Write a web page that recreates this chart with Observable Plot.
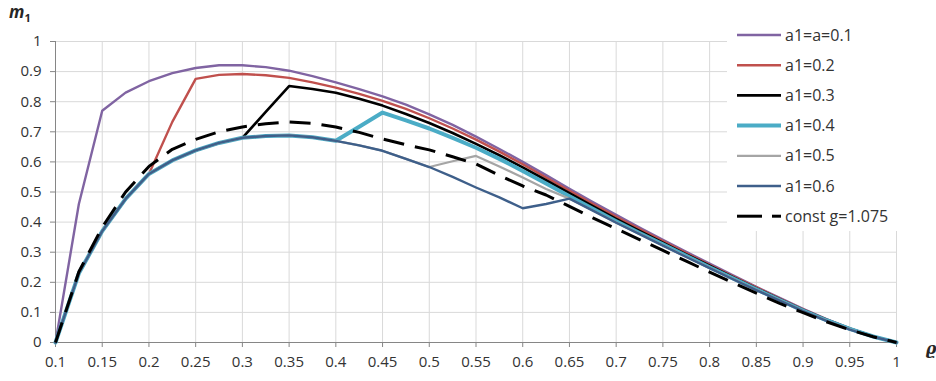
<!DOCTYPE html>
<html>
<head>
<meta charset="utf-8">
<script src="https://cdn.jsdelivr.net/npm/d3@7"></script>
<script src="https://cdn.jsdelivr.net/npm/@observablehq/plot@0.6"></script>
<style>
  html, body { margin: 0; padding: 0; background: #fff; }
  #chart { width: 936px; height: 381px; }
</style>
</head>
<body>
<div id="chart"></div>
<script>
// ---- data ----
const rho = [0.1,0.125,0.15,0.175,0.2,0.225,0.25,0.275,0.3,0.325,0.35,0.375,0.4,0.425,0.45,0.475,0.5,0.525,0.55,0.575,0.6,0.625,0.65,0.675,0.7,0.725,0.75,0.775,0.8,0.825,0.85,0.875,0.9,0.925,0.95,0.975,1];

const a1_01 = [0,0.46,0.77,0.83,0.868,0.895,0.912,0.921,0.921,0.915,0.903,0.885,0.864,0.842,0.818,0.79,0.758,0.723,0.684,0.643,0.6,0.556,0.511,0.467,0.424,0.382,0.341,0.301,0.262,0.223,0.185,0.148,0.112,0.078,0.047,0.021,0];
const a1_02 = [0,0.23,0.37,0.477,0.56,0.733,0.876,0.889,0.892,0.888,0.879,0.864,0.847,0.826,0.803,0.776,0.745,0.711,0.674,0.634,0.592,0.548,0.504,0.46,0.418,0.377,0.337,0.297,0.258,0.22,0.183,0.146,0.11,0.077,0.047,0.021,0];
const a1_03 = [0,0.23,0.37,0.477,0.56,0.605,0.638,0.663,0.68,0.766,0.852,0.842,0.83,0.81,0.787,0.759,0.729,0.696,0.66,0.622,0.582,0.539,0.496,0.453,0.411,0.371,0.332,0.293,0.255,0.217,0.18,0.144,0.108,0.076,0.046,0.02,0];
const a1_04 = [0,0.23,0.37,0.477,0.56,0.605,0.638,0.663,0.68,0.686,0.688,0.682,0.67,0.717,0.764,0.738,0.711,0.68,0.647,0.61,0.57,0.528,0.486,0.444,0.403,0.364,0.326,0.288,0.25,0.213,0.177,0.141,0.106,0.074,0.045,0.02,0];
const a1_05 = [0,0.23,0.37,0.477,0.56,0.605,0.638,0.663,0.68,0.686,0.688,0.682,0.67,0.655,0.637,0.61,0.583,0.602,0.62,0.585,0.548,0.51,0.478,0.439,0.399,0.361,0.323,0.285,0.248,0.211,0.175,0.14,0.105,0.073,0.044,0.019,0];
const a1_06 = [0,0.23,0.37,0.477,0.56,0.605,0.638,0.663,0.68,0.686,0.688,0.682,0.67,0.655,0.637,0.61,0.583,0.55,0.515,0.482,0.446,0.46,0.478,0.438,0.398,0.36,0.322,0.284,0.247,0.21,0.174,0.139,0.104,0.072,0.043,0.019,0];
const constG = [0,0.235,0.383,0.5,0.585,0.642,0.675,0.7,0.716,0.727,0.733,0.728,0.716,0.698,0.676,0.657,0.64,0.617,0.593,0.555,0.52,0.49,0.452,0.414,0.378,0.342,0.306,0.27,0.234,0.199,0.164,0.13,0.099,0.069,0.042,0.019,0];

const seriesNames = ["a1=a=0.1","a1=0.2","a1=0.3","a1=0.4","a1=0.5","a1=0.6","const g=1.075"];
const seriesValues = [a1_01, a1_02, a1_03, a1_04, a1_05, a1_06, constG];

const xTicks = [0.1,0.15,0.2,0.25,0.3,0.35,0.4,0.45,0.5,0.55,0.6,0.65,0.7,0.75,0.8,0.85,0.9,0.95,1];
const yTicks = [0,0.1,0.2,0.3,0.4,0.5,0.6,0.7,0.8,0.9,1];

// ---- styles ----
const colors = ["#8064A2","#C0504D","#000000","#4BACC6","#A5A5A5","#3E5F8A","#000000"];
const widths = [2.4,2.4,2.6,4,2.2,2.4,3];
const dashes = [null,null,null,null,null,null,"21,11"];

const fmt = d => String(+(+d).toFixed(2));

const rows = seriesNames.map((name, i) => rho.map((x, j) => ({x, y: seriesValues[i][j], s: name})));

const lineMarks = rows.map((data, i) => Plot.line(data, {
  x: "x", y: "y",
  stroke: colors[i],
  strokeWidth: widths[i],
  strokeDasharray: dashes[i] || undefined,
  strokeLinejoin: "round",
  strokeLinecap: i === 6 ? "butt" : "round"
}));

const chart = Plot.plot({
  width: 936,
  height: 381,
  marginLeft: 55,
  marginRight: 40,
  marginTop: 41,
  marginBottom: 39,
  style: {fontFamily: "'Open Sans', sans-serif", fontSize: "15px", color: "#404040", background: "#fff"},
  x: {domain: [0.1, 1], label: null},
  y: {domain: [0, 1], label: null},
  marks: [
    Plot.gridX(xTicks, {stroke: "#d9d9d9", strokeOpacity: 1}),
    Plot.gridY(yTicks, {stroke: "#d9d9d9", strokeOpacity: 1}),
    Plot.axisX(xTicks, {tickSize: 5, tickPadding: 9, stroke: "#868686", fill: "#333333", tickFormat: fmt, label: null}),
    Plot.axisY(yTicks, {tickSize: 5, tickPadding: 9, stroke: "#868686", fill: "#333333", tickFormat: fmt, label: null}),
    Plot.ruleY([0], {stroke: "#868686"}),
    Plot.ruleX([0.1], {stroke: "#868686"}),
    ...lineMarks
  ]
});

document.getElementById("chart").appendChild(chart);

// ---- axis titles and legend ----
const svg = d3.select(chart);

const yTitle = svg.append("text")
  .attr("x", 9).attr("y", 18)
  .attr("text-anchor", "start")
  .attr("font-family", "'Open Sans', sans-serif")
  .attr("font-weight", "bold").attr("font-style", "italic")
  .attr("font-size", 17).style("fill", "#262626");
yTitle.append("tspan").text("m");
yTitle.append("tspan").attr("dy", 4).attr("font-size", 11).attr("font-style", "normal").text("1");

svg.append("text")
  .attr("x", 931).attr("y", 354)
  .attr("text-anchor", "middle")
  .attr("font-family", "'DejaVu Serif', serif")
  .attr("font-weight", "bold").attr("font-style", "italic")
  .attr("font-size", 16).style("fill", "#262626")
  .text("ϱ");

const legend = svg.append("g");
legend.append("rect").attr("x", 727).attr("y", 18).attr("width", 209).attr("height", 213)
  .attr("fill", "#ffffff").style("fill", "#ffffff").style("stroke", "none");
seriesNames.forEach((name, i) => {
  const cy = 35 + i * 30.2;
  const g = legend.append("g");
  if (dashes[i]) {
    g.append("line").attr("x1", 737).attr("x2", 762).attr("y1", cy).attr("y2", cy)
      .style("stroke", colors[i]).style("stroke-width", widths[i]);
    g.append("line").attr("x1", 772).attr("x2", 781).attr("y1", cy).attr("y2", cy)
      .style("stroke", colors[i]).style("stroke-width", widths[i]);
  } else {
    g.append("line").attr("x1", 737).attr("x2", 781).attr("y1", cy).attr("y2", cy)
      .style("stroke", colors[i]).style("stroke-width", widths[i]);
  }
  g.append("text").attr("x", 785).attr("y", cy).attr("dy", "0.35em")
    .attr("text-anchor", "start")
    .attr("font-family", "'Open Sans', sans-serif").attr("font-size", 16)
    .style("fill", "#333333").text(name);
});
</script>
</body>
</html>
